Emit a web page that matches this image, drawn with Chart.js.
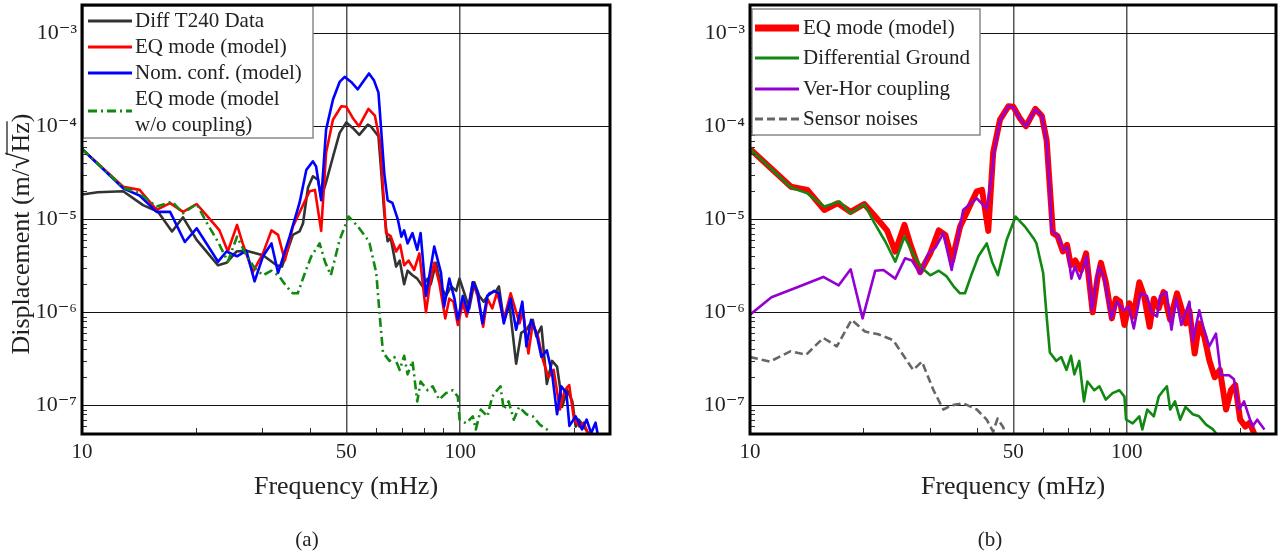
<!DOCTYPE html>
<html><head><meta charset="utf-8">
<script src="https://cdn.jsdelivr.net/npm/chart.js@4.4.0/dist/chart.umd.min.js"></script>
<style>
html,body{margin:0;padding:0;background:#fff;}
#wrap{position:relative;width:1288px;height:554px;overflow:hidden;}
canvas{position:absolute;top:0;}
</style></head><body>
<div id="wrap">
<canvas id="ca" width="644" height="554" style="left:0"></canvas>
<canvas id="cb" width="644" height="554" style="left:644px"></canvas>
</div>
<script>
const F = "'Liberation Serif', 'DejaVu Serif', serif";

// ---- Diff T240 Data (black) ----
const freqData = [10, 11, 12.85, 14.5, 15.9, 17.3, 18.5, 20.1, 22.9, 24.1, 25.6, 27.2, 30.1, 32.7, 33.8, 36.1, 37.6, 38.4, 39.6, 40.8, 42.1, 42.9, 44.2, 46.1, 48, 50, 52, 54.1, 57, 58, 60.8, 61.9, 63, 64.3, 65.5, 67.7, 69.2, 71.1, 72.6, 74.8, 77, 79.5, 82, 83.6, 86.3, 89, 91.7, 94.7, 97.6, 99.6, 102.6, 105.7, 109, 112.3, 115.4, 119.5, 124.5, 126.6, 130.4, 135, 140.6, 145, 149.7, 155.6, 159, 164, 169.5, 175, 180.4, 183.5, 186, 192, 198, 202, 206, 215, 222];
const valData = [1.85e-5, 1.95e-5, 2.0e-5, 1.42e-5, 1.2e-5, 7.4e-6, 1.05e-5, 6.0e-6, 3.2e-6, 3.4e-6, 4.5e-6, 4.6e-6, 4.1e-6, 3.2e-6, 3.1e-6, 6.8e-6, 7.4e-6, 9.0e-6, 2.2e-5, 2.9e-5, 2.65e-5, 1.7e-5, 2.5e-5, 4.7e-5, 8.5e-5, 1.1e-4, 9.6e-5, 8.1e-5, 1.04e-4, 1.0e-4, 7.8e-5, 3.1e-5, 1.16e-5, 5.8e-6, 6.3e-6, 3.1e-6, 3.6e-6, 2.0e-6, 2.8e-6, 2.5e-6, 2.3e-6, 1.9e-6, 2.3e-6, 2.0e-6, 3.4e-6, 1.9e-6, 1.5e-6, 1.9e-6, 1.7e-6, 2.3e-6, 1.6e-6, 1.1e-6, 2.1e-6, 1.5e-6, 1.3e-6, 1.6e-6, 1.7e-6, 1.9e-6, 8.3e-7, 1.2e-6, 2.8e-7, 6.0e-7, 6.5e-7, 8.3e-7, 5.5e-7, 7.0e-7, 1.7e-7, 3.0e-7, 2.6e-7, 1.6e-7, 9.6e-8, 1.45e-7, 1.1e-7, 5.9e-8, 7.0e-8, 5.5e-8, 4.5e-8];

// ---- EQ mode (model) (red) ----
const freqEQ = [10, 12.85, 14.2, 15.75, 17.1, 18.5, 20.1, 21.5, 23.1, 24.3, 25.7, 26.6, 28.3, 30.1, 31.7, 33.0, 34.4, 36.1, 38.4, 40.0, 41.3, 42.9, 44.2, 46.1, 48.5, 50, 52, 54, 57.2, 59.5, 61.3, 62.5, 63.7, 65.5, 67.7, 69.4, 71.1, 73, 75.6, 78, 81.2, 83.6, 85.4, 88, 91.3, 93.6, 96, 98.6, 101.6, 104.1, 108, 111.2, 115, 118, 121.6, 125.2, 130.4, 136, 143.5, 146.6, 151.5, 155.6, 160.6, 165.8, 171.2, 176.7, 183.5, 189, 194.2, 200, 206.5, 212, 220];
const valEQ = [5.7e-5, 2.24e-5, 2.07e-5, 1.26e-5, 1.49e-5, 1.2e-5, 1.46e-5, 1.07e-5, 7.6e-6, 4.5e-6, 8.7e-6, 5.5e-6, 2.7e-6, 4.3e-6, 7.6e-6, 6.8e-6, 3.6e-6, 8.3e-6, 1.42e-5, 2.0e-5, 2.07e-5, 7.5e-6, 5.2e-5, 1.18e-4, 1.64e-4, 1.62e-4, 1.23e-4, 1.0e-4, 1.54e-4, 1.3e-4, 7.0e-5, 2.2e-5, 7.1e-6, 6.6e-6, 4.5e-6, 5.3e-6, 3.2e-6, 3.6e-6, 2.85e-6, 4.3e-6, 1.0e-6, 2.3e-6, 3.4e-6, 2.1e-6, 8.6e-7, 1.4e-6, 1.3e-6, 7.3e-7, 1.25e-6, 9.0e-7, 2.1e-6, 1.5e-6, 7.0e-7, 1.4e-6, 1.1e-6, 1.65e-6, 8.3e-7, 1.6e-6, 7.6e-7, 1.05e-6, 3.6e-7, 7.6e-7, 5.5e-7, 3.0e-7, 2.0e-7, 2.4e-7, 9.0e-8, 1.45e-7, 1.65e-7, 7.0e-8, 5.9e-8, 6.5e-8, 4.5e-8];

// ---- Nom. conf. (model) (blue) ----
const freqNom = [10, 12.85, 14.2, 15.75, 17.1, 18.7, 20.1, 21.4, 22.9, 24.1, 25.7, 27.2, 28.6, 30.1, 31.7, 33, 35.4, 37.6, 39.2, 40.8, 41.6, 42.9, 44.2, 46.1, 48, 49.5, 51.5, 53.6, 55.3, 57.4, 59.2, 60.8, 61.9, 63, 64.3, 66.2, 68.4, 69.9, 71.1, 72.6, 74.8, 77, 78.6, 81.2, 85.4, 89, 90.7, 93.6, 96.6, 98.6, 101.6, 104.8, 108, 111.2, 114.5, 118, 123, 126.6, 130.4, 136, 140.6, 146, 149.7, 154, 159, 164, 169.5, 175, 180.4, 185, 191, 194.5, 202, 210, 216, 222, 228, 232];
const valNom = [5.7e-5, 2.15e-5, 1.8e-5, 1.2e-5, 1.2e-5, 5.7e-6, 8.0e-6, 5.4e-6, 3.5e-6, 4.5e-6, 4.0e-6, 4.6e-6, 2.15e-6, 4.0e-6, 5.5e-6, 2.65e-6, 6.5e-6, 1.5e-5, 3.4e-5, 4.2e-5, 3.7e-5, 1.6e-5, 9.2e-5, 1.94e-4, 3.0e-4, 3.4e-4, 3.0e-4, 2.5e-4, 3.0e-4, 3.7e-4, 3.1e-4, 2.3e-4, 8.5e-5, 3.1e-5, 1.6e-5, 1.5e-5, 1.0e-5, 6.5e-6, 7.6e-6, 5.5e-6, 7.1e-6, 4.7e-6, 7.1e-6, 1.5e-6, 5.1e-6, 2.65e-6, 1.15e-6, 2.3e-6, 1.4e-6, 8.3e-7, 1.5e-6, 1.0e-6, 2.1e-6, 1.65e-6, 7.6e-7, 1.5e-6, 1.7e-6, 1.6e-6, 7.6e-7, 1.4e-6, 6.5e-7, 1.3e-6, 4.3e-7, 8.3e-7, 6.0e-7, 3.3e-7, 3.9e-7, 2.2e-7, 8.0e-8, 1.6e-7, 1.35e-7, 6.0e-8, 7.6e-8, 5.5e-8, 7.0e-8, 5.0e-8, 6.5e-8, 4.5e-8];

// ---- EQ mode w/o coupling = Differential Ground (green) ----
const freqGround = [10, 12.85, 14.2, 15.75, 17.3, 18.5, 20.1, 21.4, 22.9, 24.3, 25.7, 27.2, 28.6, 30.1, 31.7, 33.2, 34.7, 36.1, 37.2, 38.8, 40.4, 42.5, 43.9, 45.5, 48, 50.7, 53.6, 56.5, 57.6, 60, 61.3, 62.5, 65, 67, 69.2, 71.1, 72.6, 74.8, 77, 78.6, 82, 84.6, 88, 91.7, 95.6, 98.6, 99.6, 103.7, 108, 110, 113.4, 118, 121.6, 125.2, 127.8, 130.4, 134.3, 138.6, 143.2, 149.7, 155.6, 162.4, 169.5, 176];
const valGround = [5.7e-5, 2.2e-5, 1.9e-5, 1.37e-5, 1.55e-5, 1.16e-5, 1.46e-5, 9.1e-6, 5.7e-6, 3.5e-6, 6.5e-6, 4.1e-6, 3.0e-6, 2.5e-6, 2.8e-6, 2.45e-6, 1.9e-6, 1.6e-6, 1.6e-6, 2.6e-6, 4.0e-6, 5.5e-6, 3.5e-6, 2.5e-6, 6.0e-6, 1.07e-5, 8.4e-6, 6.3e-6, 5.5e-6, 2.65e-6, 9.0e-7, 3.7e-7, 3.0e-7, 3.3e-7, 2.4e-7, 3.4e-7, 2.15e-7, 3.0e-7, 1.1e-7, 1.8e-7, 1.45e-7, 1.6e-7, 1.15e-7, 1.35e-7, 1.45e-7, 1.24e-7, 7.0e-8, 6.4e-8, 7.6e-8, 5.5e-8, 9.0e-8, 7.6e-8, 1.24e-7, 1.45e-7, 1.6e-7, 9.0e-8, 1.1e-7, 7.0e-8, 9.6e-8, 8.0e-8, 7.6e-8, 6.2e-8, 5.5e-8, 4.5e-8];

// ---- Ver-Hor coupling (purple) ----
const freqVH = [10, 11.4, 13.3, 15.65, 17.2, 18.5, 19.9, 21.5, 22.6, 24.3, 25.8, 26.9, 28.3, 29.8, 31.0, 32.6, 34.3, 36.8, 40, 42.5, 43.8, 44.4, 46.1, 48.5, 50, 52, 54, 57.2, 59.5, 61.3, 62.5, 63.2, 65.8, 67.9, 69.5, 71.3, 72.8, 75, 78.3, 80.8, 84.2, 87, 91, 94.1, 98.2, 101.3, 104.4, 108.8, 113.1, 116.6, 120.3, 122.6, 127.5, 131.4, 135.4, 139.6, 146.7, 149.7, 155.8, 159.6, 165.6, 172.5, 177.9, 187, 192.6, 198.6, 204.8, 215.5, 222, 232];
const valVH = [9.4e-7, 1.45e-6, 1.85e-6, 2.4e-6, 1.95e-6, 2.9e-6, 8.6e-7, 2.8e-6, 2.85e-6, 2.3e-6, 3.8e-6, 3.6e-6, 2.6e-6, 4.3e-6, 4.9e-6, 7.1e-6, 2.85e-6, 1.26e-5, 1.68e-5, 1.3e-5, 2.9e-5, 5.2e-5, 1.15e-4, 1.64e-4, 1.6e-4, 1.22e-4, 1.0e-4, 1.52e-4, 1.3e-4, 6.8e-5, 2.1e-5, 7.6e-6, 6.5e-6, 4.7e-6, 5.0e-6, 2.3e-6, 3.1e-6, 2.3e-6, 4.0e-6, 1.05e-6, 3.1e-6, 2.4e-6, 8.6e-7, 1.3e-6, 1.05e-6, 1.15e-6, 6.7e-7, 1.6e-6, 1.5e-6, 9.8e-7, 9.0e-7, 1.5e-6, 1.65e-6, 6.5e-7, 1.4e-6, 7.3e-7, 1.3e-6, 4.9e-7, 1.05e-6, 7.0e-7, 4.3e-7, 5.9e-7, 2.1e-7, 2.1e-7, 1.9e-7, 9.0e-8, 1.1e-7, 5.9e-8, 7.0e-8, 5.5e-8];

// ---- Sensor noises (gray dashed) ----
const freqSN = [10, 11.3, 12.8, 14.1, 15.65, 17.0, 18.6, 20.2, 21.9, 24, 27.1, 28.6, 30.7, 32.6, 34.3, 36.8, 40, 42.5, 44.2, 45.4, 47, 48.5];
const valSN = [3.3e-7, 2.95e-7, 3.8e-7, 3.5e-7, 5.3e-7, 4.3e-7, 8.3e-7, 6.2e-7, 5.8e-7, 5.0e-7, 2.4e-7, 2.95e-7, 1.45e-7, 9.0e-8, 1.0e-7, 1.05e-7, 9.0e-8, 7.0e-8, 5.2e-8, 7.2e-8, 5.8e-8, 4.0e-8];

// ---- ticks ----
const yTickValues = [1e-7, 1e-6, 1e-5, 1e-4, 1e-3];
const yTickLabels = ['10\u207B\u2077', '10\u207B\u2076', '10\u207B\u2075', '10\u207B\u2074', '10\u207B\u00B3'];
const xTickValues = [10, 20, 30, 40, 50, 60, 70, 80, 90, 100, 200];
const xLabelValues = [10, 50, 100];
const xLabelTexts = ['10', '50', '100'];
const xGridValues = [50, 100];

function pts(fs, vs) { return fs.map((f, i) => ({ x: f, y: vs[i] })); }
function ds(label, fs, vs, color, width, dash, order) {
  return { label, data: pts(fs, vs), borderColor: color, backgroundColor: color, borderWidth: width,
    borderDash: dash || [], pointRadius: 0, pointHoverRadius: 0, tension: 0, fill: false, order,
    borderJoinStyle: 'round', borderCapStyle: 'butt' };
}

function makeScales(yWidth) {
  return {
    x: {
      type: 'logarithmic', min: 10, max: 249, bounds: 'data', position: 'bottom',
      afterBuildTicks: s => { s.ticks = xTickValues.map(v => ({ value: v })); },
      afterFit: s => { s.height = 69; s.paddingLeft = 0; s.paddingRight = 0; },
      ticks: { autoSkip: false, maxRotation: 0, minRotation: 0, padding: 6, color: '#222',
        font: { family: F, size: 21 },
        callback: v => { const i = xLabelValues.indexOf(v); return i >= 0 ? xLabelTexts[i] : ''; } },
      grid: { drawTicks: false, lineWidth: 1.5,
        color: c => (c.tick && xGridValues.includes(c.tick.value)) ? '#555' : 'rgba(0,0,0,0)' },
      border: { display: false },
      title: { display: true, text: 'Frequency (mHz)', color: '#222', font: { family: F, size: 26 }, padding: { top: 0, bottom: 0 } }
    },
    y: {
      type: 'logarithmic', min: 4.91e-8, max: 2.015e-3, bounds: 'data',
      afterBuildTicks: s => { s.ticks = yTickValues.map(v => ({ value: v })); },
      afterFit: s => { s.width = yWidth; s.paddingTop = 0; s.paddingBottom = 0; },
      ticks: { autoSkip: false, padding: 5, color: '#222', font: { family: F, size: 22 },
        callback: v => { const i = yTickValues.findIndex(t => Math.abs(t - v) / t < 1e-6); return i >= 0 ? yTickLabels[i] : ''; } },
      grid: { drawTicks: false, color: '#111', lineWidth: 1 },
      border: { display: false }
    }
  };
}

const deco = {
  id: 'deco',
  afterDraw(chart, args, o) {
    const ctx = chart.ctx, a = chart.chartArea, xs = chart.scales.x, ys = chart.scales.y;
    ctx.save();
    // minor inward ticks
    ctx.strokeStyle = '#333'; ctx.lineWidth = 1;
    xTickValues.forEach(v => {
      if (xLabelValues.includes(v)) return;
      const px = Math.round(xs.getPixelForValue(v)) + 0.5;
      ctx.beginPath(); ctx.moveTo(px, a.bottom); ctx.lineTo(px, a.bottom - 6); ctx.stroke();
    });
    for (let e = -8; e <= -3; e++) for (let m = 2; m <= 9; m++) {
      const v = m * Math.pow(10, e);
      if (v < ys.min || v > ys.max) continue;
      const py = Math.round(ys.getPixelForValue(v)) + 0.5;
      ctx.beginPath(); ctx.moveTo(a.left, py); ctx.lineTo(a.left + 5, py); ctx.stroke();
    }
    // legend box
    const L = o.legend;
    ctx.fillStyle = '#fff'; ctx.fillRect(L.x, L.y, L.w, L.h);
    ctx.strokeStyle = '#888'; ctx.lineWidth = 1.5; ctx.strokeRect(L.x, L.y, L.w, L.h);
    ctx.font = `${L.size}px ${F}`; ctx.textBaseline = 'middle'; ctx.textAlign = 'left';
    L.items.forEach(it => {
      ctx.beginPath(); ctx.setLineDash(it.dash || []);
      ctx.strokeStyle = it.color; ctx.lineWidth = it.width;
      ctx.moveTo(L.lx0, it.ly); ctx.lineTo(L.lx1, it.ly); ctx.stroke();
      ctx.setLineDash([]);
      ctx.fillStyle = '#222';
      it.text.forEach((t, k) => ctx.fillText(t, L.tx, it.ty[k]));
    });
    // frame
    ctx.lineWidth = 3; ctx.strokeStyle = '#000';
    ctx.strokeRect(a.left, a.top, a.right - a.left, a.bottom - a.top);
    // y title with sqrt overline
    if (o.ytitle) {
      const T = o.ytitle;
      ctx.save(); ctx.translate(T.x, T.y); ctx.rotate(-Math.PI / 2);
      ctx.fillStyle = '#222'; ctx.textBaseline = 'alphabetic'; ctx.textAlign = 'left';
      const p = ['Displacement (m/', '\u221A', 'Hz', ')'];
      const sz = [26, 30, 26, 26];
      const w = p.map((s, i) => { ctx.font = `${sz[i]}px ${F}`; return ctx.measureText(s).width; });
      const tot = w.reduce((s, v) => s + v, 0);
      let x0 = -tot / 2;
      p.forEach((s, i) => { ctx.font = `${sz[i]}px ${F}`; ctx.fillText(s, x0, 0); x0 += w[i]; });
      const sx = -tot / 2 + w[0] + w[1] * 0.85, ex = -tot / 2 + w[0] + w[1] + w[2] + 1;
      ctx.strokeStyle = '#222'; ctx.lineWidth = 1.3;
      ctx.beginPath(); ctx.moveTo(sx, -T.ov); ctx.lineTo(ex, -T.ov); ctx.stroke();
      ctx.restore();
    }
    // caption
    ctx.font = `21px ${F}`; ctx.fillStyle = '#222'; ctx.textAlign = 'center'; ctx.textBaseline = 'middle';
    ctx.fillText(o.caption.text, o.caption.x, o.caption.y);
    ctx.restore();
  }
};

const common = {
  responsive: false, animation: false, devicePixelRatio: 1,
  plugins: { legend: { display: false }, tooltip: { enabled: false } },
  events: []
};

new Chart(document.getElementById('ca'), {
  type: 'line',
  data: { datasets: [
    ds('Diff T240 Data', freqData, valData, '#333333', 2.6, null, 3),
    ds('EQ mode (model)', freqEQ, valEQ, '#ff0000', 2.6, null, 2),
    ds('Nom. conf. (model)', freqNom, valNom, '#0000ff', 2.6, null, 1),
    ds('EQ mode (model w/o coupling)', freqGround, valGround, '#118811', 2.6, [9, 4, 2, 4], 0)
  ] },
  options: Object.assign({}, common, {
    layout: { padding: { left: 0, right: 34, top: 5, bottom: 51 } },
    scales: makeScales(82),
    plugins: Object.assign({}, common.plugins, { deco: {
      legend: { x: 83, y: 6, w: 230, h: 132, lx0: 88, lx1: 132, tx: 135, size: 21, items: [
        { text: ['Diff T240 Data'], ty: [21], ly: 21, color: '#333333', width: 3 },
        { text: ['EQ mode (model)'], ty: [47], ly: 47, color: '#ff0000', width: 3 },
        { text: ['Nom. conf. (model)'], ty: [73], ly: 73, color: '#0000ff', width: 3 },
        { text: ['EQ mode (model', 'w/o coupling)'], ty: [99, 125], ly: 111, color: '#118811', width: 3, dash: [9, 4, 2, 4] }
      ] },
      ytitle: { x: 29, y: 234, ov: 22 },
      caption: { text: '(a)', x: 307, y: 540 }
    } })
  }),
  plugins: [deco]
});

new Chart(document.getElementById('cb'), {
  type: 'line',
  data: { datasets: [
    ds('EQ mode (model)', freqEQ, valEQ, '#ff0000', 6, null, 3),
    ds('Differential Ground', freqGround, valGround, '#118811', 2.6, null, 2),
    ds('Ver-Hor coupling', freqVH, valVH, '#9400d3', 2.6, null, 1),
    ds('Sensor noises', freqSN, valSN, '#666666', 2.6, [8, 4], 0)
  ] },
  options: Object.assign({}, common, {
    layout: { padding: { left: 0, right: 12, top: 5, bottom: 51 } },
    scales: makeScales(106),
    plugins: Object.assign({}, common.plugins, { deco: {
      legend: { x: 108, y: 9, w: 228, h: 126, lx0: 111, lx1: 155, tx: 159, size: 21, items: [
        { text: ['EQ mode (model)'], ty: [28], ly: 28, color: '#ff0000', width: 7 },
        { text: ['Differential Ground'], ty: [58], ly: 58, color: '#118811', width: 3 },
        { text: ['Ver-Hor coupling'], ty: [89], ly: 89, color: '#9400d3', width: 3 },
        { text: ['Sensor noises'], ty: [119], ly: 119, color: '#666666', width: 3, dash: [8, 4] }
      ] },
      caption: { text: '(b)', x: 346, y: 540 }
    } })
  }),
  plugins: [deco]
});
</script>
</body></html>
